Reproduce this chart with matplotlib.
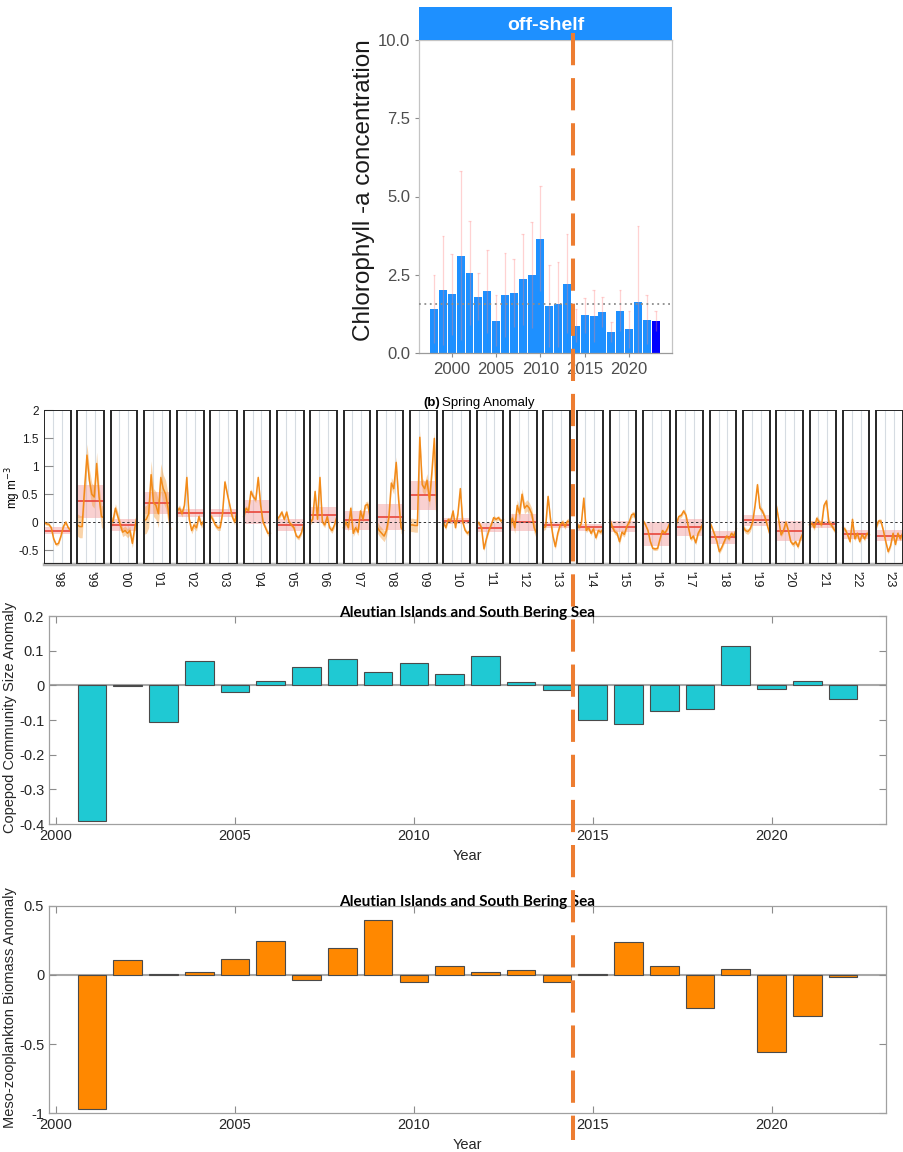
import numpy as np
import matplotlib.pyplot as plt
from matplotlib.patches import Rectangle
from matplotlib.lines import Line2D

plt.rcParams['font.family'] = ['Liberation Sans', 'DejaVu Sans']

# ---- (a) chlorophyll-a, off-shelf ----
chl_years = list(range(1998, 2024))
chl_values = [1.41, 2.0, 1.87, 3.11, 2.55, 1.8, 1.97, 1.03, 1.85, 1.92, 2.35, 2.5, 3.65,
              1.5, 1.55, 2.22, 0.87, 1.2, 1.18, 1.32, 0.67, 1.35, 0.76, 1.62, 1.07, 1.02]
chl_upper = [2.5, 3.75, 3.15, 5.8, 4.22, 2.55, 3.3, 1.85, 3.2, 3.0, 3.8, 4.2, 5.32,
             2.8, 2.9, 3.8, 1.4, 1.75, 2.0, 1.8, 1.0, 2.0, 1.35, 4.05, 1.85, 1.35]
chl_mean_line = 1.57

# ---- (b) spring anomaly ----
spring_labels = ["'98", "'99", "'00", "'01", "'02", "'03", "'04", "'05", "'06", "'07", "'08", "'09", "'10",
                 "'11", "'12", "'13", "'14", "'15", "'16", "'17", "'18", "'19", "'20", "'21", "'22", "'23"]
spring_series = [
    [0.0, -0.03, -0.04, -0.1, -0.3, -0.4, -0.38, -0.25, -0.08, 0.0, -0.1, -0.15],
    [-0.05, -0.08, -0.08, 0.6, 1.2, 0.75, 0.5, 0.45, 1.05, 0.45, 0.1, 0.08],
    [0.0, 0.02, 0.25, 0.1, -0.05, -0.18, -0.15, -0.2, -0.15, -0.38, -0.1, 0.12],
    [0.03, 0.05, 0.15, 0.85, 0.35, 0.3, 0.15, 0.8, 0.6, 0.5, 0.25, -0.12],
    [0.2, 0.25, 0.15, 0.3, 0.8, 0.05, -0.15, -0.05, -0.1, 0.1, -0.05, 0.02],
    [0.12, 0.05, -0.05, -0.1, -0.1, 0.15, 0.72, 0.5, 0.3, 0.1, 0.0, 0.2],
    [0.1, 0.25, 0.2, 0.55, 0.45, 0.4, 0.8, 0.3, 0.0, -0.1, -0.2, -0.2],
    [0.05, 0.1, 0.18, 0.05, 0.18, 0.0, -0.05, -0.1, -0.25, -0.28, -0.2, -0.05],
    [0.0, 0.05, 0.55, 0.05, 0.8, 0.0, -0.05, 0.1, -0.1, -0.15, -0.05, 0.1],
    [-0.1, 0.0, -0.1, 0.25, -0.2, -0.1, -0.18, 0.2, 0.05, 0.3, 0.32, 0.08],
    [-0.08, -0.15, -0.2, -0.25, -0.15, 0.1, 0.7, 0.6, 1.07, 0.4, -0.1, -0.15],
    [-0.05, -0.05, -0.06, -0.06, 1.52, 0.67, 0.6, 0.75, 0.38, 0.9, 1.5, 0.2],
    [0.0, -0.1, 0.05, 0.02, 0.2, -0.1, 0.15, 0.6, 0.0, -0.15, -0.2, -0.15],
    [0.0, -0.02, -0.1, -0.48, -0.3, -0.15, -0.05, 0.08, 0.05, 0.08, 0.02, 0.05],
    [-0.06, 0.07, -0.1, 0.3, 0.15, 0.5, 0.25, 0.3, 0.25, 0.15, -0.1, -0.2],
    [-0.1, -0.08, 0.46, 0.05, -0.25, -0.44, -0.2, -0.05, 0.0, -0.08, 0.02, 0.0],
    [0.0, -0.1, -0.02, 0.43, -0.15, -0.1, -0.2, -0.12, -0.28, -0.15, -0.18, -0.12],
    [0.04, -0.08, -0.17, -0.2, -0.35, -0.18, -0.22, -0.08, 0.0, 0.13, 0.15, 0.02],
    [0.03, -0.05, -0.15, -0.35, -0.47, -0.48, -0.47, -0.3, -0.15, -0.2, -0.12, -0.02],
    [-0.02, 0.1, 0.12, 0.2, 0.12, -0.1, -0.3, -0.25, -0.37, -0.2, -0.12, -0.02],
    [0.0, -0.1, -0.22, -0.35, -0.53, -0.45, -0.35, -0.25, -0.3, -0.2, -0.25, -0.12],
    [-0.08, -0.15, -0.17, -0.12, 0.0, 0.3, 0.67, 0.25, 0.2, 0.1, -0.05, -0.2],
    [0.3, 0.05, -0.23, -0.15, 0.0, -0.15, -0.35, -0.4, -0.35, -0.44, -0.3, -0.2],
    [-0.05, -0.02, -0.1, 0.07, 0.0, -0.05, 0.3, 0.38, 0.0, -0.05, -0.12, -0.18],
    [-0.1, -0.13, -0.23, -0.35, 0.05, -0.3, -0.2, -0.35, -0.22, -0.3, -0.2, -0.23],
    [-0.1, 0.02, 0.02, -0.15, -0.35, -0.53, -0.42, -0.2, -0.4, -0.2, -0.3, -0.2],
]
spring_err = [0.03, 0.2, 0.08, 0.25, 0.06, 0.05, 0.05, 0.04, 0.05, 0.06, 0.1, 0.12, 0.04,
              0.04, 0.1, 0.05, 0.04, 0.05, 0.03, 0.04, 0.04, 0.05, 0.04, 0.05, 0.04, 0.04]
spring_mean = [-0.15, 0.37, -0.05, 0.34, 0.17, 0.17, 0.18, -0.05, 0.13, 0.03, 0.09, 0.48, 0.02,
               -0.1, 0.0, -0.05, -0.09, -0.08, -0.21, -0.09, -0.27, 0.03, -0.16, -0.04, -0.22, -0.24]
spring_sd = [0.07, 0.3, 0.1, 0.2, 0.07, 0.07, 0.22, 0.1, 0.15, 0.17, 0.23, 0.26, 0.06,
             0.08, 0.15, 0.06, 0.06, 0.1, 0.22, 0.15, 0.12, 0.1, 0.18, 0.06, 0.08, 0.1]

# ---- copepod and meso-zooplankton anomalies ----
zoo_years = list(range(2001, 2023))
copepod = [-0.392, -0.003, -0.105, 0.069, -0.018, 0.013, 0.054, 0.077, 0.039, 0.063, 0.032,
           0.085, 0.01, -0.013, -0.099, -0.111, -0.073, -0.067, 0.113, -0.01, 0.012, -0.039]
meso = [-0.969, 0.106, 0.007, 0.019, 0.113, 0.243, -0.036, 0.192, 0.397, -0.048, 0.065,
        0.024, 0.038, -0.053, 0.007, 0.238, 0.065, -0.236, 0.041, -0.555, -0.298, -0.012]
copepod_ticks = [-0.4, -0.3, -0.2, -0.1, 0, 0.1, 0.2]
copepod_ticklabels = ['-0.4', '-0.3', '-0.2', '-0.1', '0', '0.1', '0.2']
meso_ticks = [-1, -0.5, 0, 0.5]
meso_ticklabels = ['-1', '-0.5', '0', '0.5']
region = 'Aleutian Islands and South Bering Sea'

W, H = 904, 1152


def box(l, t, r, b):
    return [l / W, 1 - b / H, (r - l) / W, (b - t) / H]


fig = plt.figure(figsize=(W / 100, H / 100), dpi=100)

# ================= chlorophyll panel =================
ax1 = fig.add_axes(box(419, 40, 672, 353))
yrs = np.array(chl_years)
vals = np.array(chl_values)
up = np.array(chl_upper)
cols = ['#1E90FF'] * (len(yrs) - 1) + ['#0000FF']
ax1.bar(yrs, vals, width=0.9, color=cols, zorder=2)
lo = np.clip(vals - (up - vals), 0, None)
ax1.vlines(yrs, lo, up, color='#ff8080', alpha=0.35, lw=0.9, zorder=3)
ax1.hlines(up, yrs - 0.15, yrs + 0.15, color='#ff8080', alpha=0.35, lw=0.9, zorder=3)
ax1.axhline(chl_mean_line, color='#8c8c8c', ls=(0, (1, 2)), lw=1.3, zorder=4)
ax1.set_xlim(1996.3, 2024.85)
ax1.set_ylim(0, 10)
ax1.set_xticks([2000, 2005, 2010, 2015, 2020])
ax1.set_yticks([0, 2.5, 5, 7.5, 10])
ax1.set_yticklabels(['0.0', '2.5', '5.0', '7.5', '10.0'])
ax1.tick_params(labelsize=12, labelcolor='#4d4d4d', color='#8c8c8c', length=3, width=0.8)
for s in ax1.spines.values():
    s.set_color('#c4c4c4')
    s.set_linewidth(0.9)
ax1.spines['bottom'].set_color('#9a9a9a')
fig.text(364 / W, 1 - 190 / H, 'Chlorophyll -a concentration', rotation=90,
         ha='center', va='center', fontsize=17.5, color='#1a1a1a')

strip = fig.add_axes(box(419, 7, 672, 40))
strip.set_facecolor('#1E90FF')
strip.set_xticks([])
strip.set_yticks([])
for s in strip.spines.values():
    s.set_visible(False)
strip.text(0.5, 0.45, 'off-shelf', color='white', fontsize=14, fontweight='bold',
           ha='center', va='center', transform=strip.transAxes)

# ================= spring anomaly panel =================
ax2 = fig.add_axes(box(44, 410.5, 902.7, 564))
bw = 0.8
for i, ser in enumerate(spring_series):
    x0 = i * 1.0
    y = np.array(ser)
    xs = x0 + bw * np.linspace(0.0, 1.0, len(y))
    for g in (1 / 3, 2 / 3):
        ax2.plot([x0 + bw * g] * 2, [-0.75, 2], color='#d6dce2', lw=0.8, zorder=1)
    m, sd = spring_mean[i], spring_sd[i]
    ax2.fill_between([x0, x0 + bw], m - sd, m + sd, color='#f4a3a3', alpha=0.5, lw=0, zorder=2)
    ax2.fill_between(xs, y - spring_err[i], y + spring_err[i], color='#f5a040', alpha=0.45,
                     lw=0, zorder=3)
    ax2.plot([x0, x0 + bw], [m, m], color='#e8453c', lw=1.2, zorder=4)
    ax2.plot(xs, y, color='#f28a18', lw=1.1, zorder=5)
    ax2.add_patch(Rectangle((x0, -0.75), bw, 2.75, fill=False, ec='#262626', lw=1.4, zorder=6))
ax2.axhline(0, color='#333333', ls=(0, (2.5, 2.5)), lw=0.7, zorder=4.5)
ax2.set_xlim(0, 25.8)
ax2.set_ylim(-0.75, 2)
ax2.set_yticks([-0.5, 0, 0.5, 1, 1.5, 2])
ax2.set_yticklabels(['-0.5', '0', '0.5', '1', '1.5', '2'])
ax2.set_xticks(np.arange(len(spring_labels)) + bw / 2)
ax2.set_xticklabels(spring_labels, rotation=-90, va='top')
ax2.tick_params(axis='y', direction='in', length=6.5, color='#8c8c8c', labelsize=8.5,
                labelcolor='#1a1a1a', pad=4)
ax2.tick_params(axis='x', length=0, labelsize=9, labelcolor='#1a1a1a', pad=5)
for k in ('top', 'left', 'right'):
    ax2.spines[k].set_visible(False)
ax2.spines['bottom'].set_color('#b5b5b5')
ax2.spines['bottom'].set_linewidth(2.5)
fig.text(13 / W, 1 - 488 / H, 'mg m$^{-3}$', rotation=90, ha='center', va='center', fontsize=8.5)
fig.text(423 / W, 1 - 403 / H, '(b)', fontsize=9.5, fontweight='bold', ha='left', va='center')
fig.text(442 / W, 1 - 403 / H, 'Spring Anomaly', fontsize=9.5, ha='left', va='center')


# ================= zooplankton panels =================
def zoo_panel(rect, values, color, ticks, ticklabels, ylim, ylabel, lab_y, title_y, year_y):
    ax = fig.add_axes(rect)
    ax.bar(zoo_years, values, width=0.8, color=color, edgecolor='#4a4a4a', lw=0.8, zorder=2)
    ax.axhline(0, color='#a8a8a8', lw=1.5, zorder=1)
    ax.set_xlim(1999.8, 2023.2)
    ax.set_ylim(*ylim)
    ax.set_xticks([2000, 2005, 2010, 2015, 2020])
    ax.set_yticks(ticks)
    ax.set_yticklabels(ticklabels)
    ax.tick_params(direction='in', top=True, right=True, length=5, color='#8c8c8c',
                   labelsize=10.5, labelcolor='#262626')
    for s in ax.spines.values():
        s.set_color('#a0a0a0')
        s.set_linewidth(0.9)
    fig.text(10 / W, 1 - lab_y / H, ylabel, rotation=90, ha='center', va='center',
             fontsize=10.5, color='#262626')
    fig.text(467.5 / W, 1 - title_y / H, region, family=['Lato', 'DejaVu Sans'],
             fontweight='bold', fontsize=11, ha='center', va='baseline')
    fig.text(467.5 / W, 1 - year_y / H, 'Year', ha='center', va='center', fontsize=10.5,
             color='#262626')
    return ax


zoo_panel(box(49, 616, 886, 824), copepod, '#1FC9D3', copepod_ticks, copepod_ticklabels,
          (-0.4, 0.2), 'Copepod Community Size Anomaly', 717, 617, 856)
zoo_panel(box(49, 905.7, 886, 1113.3), meso, '#FF8800', meso_ticks, meso_ticklabels,
          (-1, 0.5), 'Meso-zooplankton Biomass Anomaly', 1008, 906, 1145)

# vertical dashed marker over the whole figure
fig.add_artist(Line2D([572.7 / W, 572.7 / W], [1 - 33 / H, 1 - 1140 / H], transform=fig.transFigure,
                      color='#ED7D31', lw=2.9, ls=(0, (8, 3.2)), zorder=20))

fig.savefig('out.png', dpi=100)
